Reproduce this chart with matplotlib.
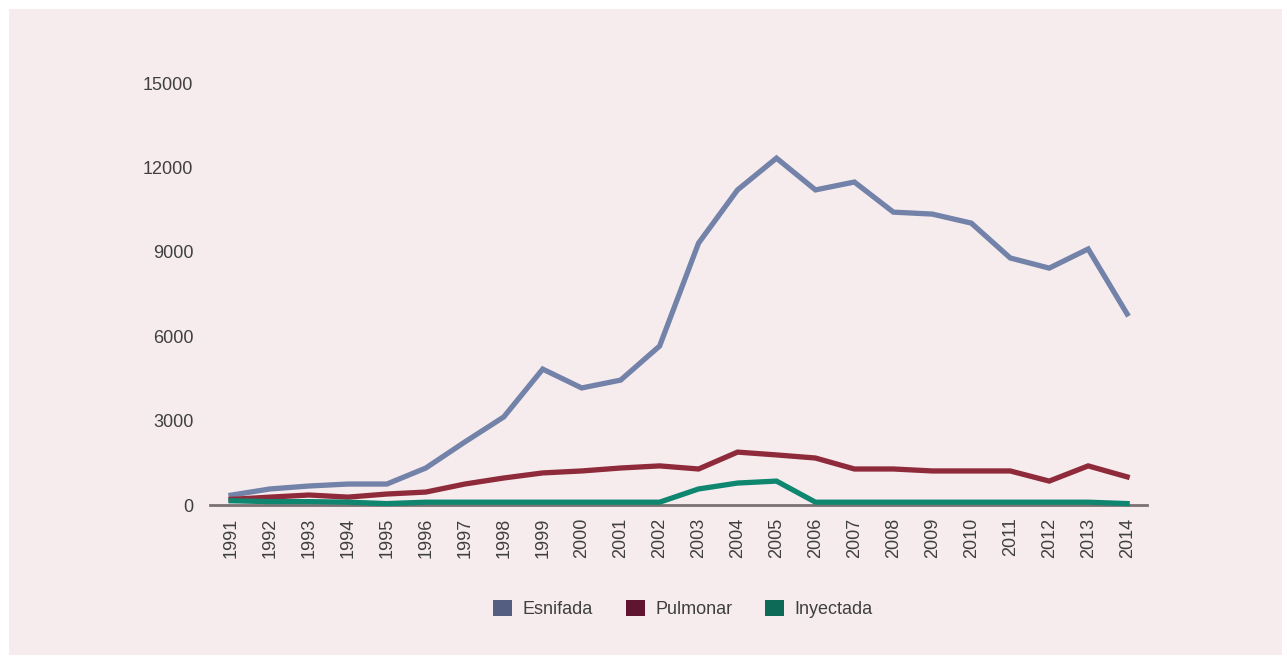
import matplotlib
matplotlib.use("Agg")
import matplotlib.pyplot as plt
from matplotlib.patches import Patch, Rectangle

years = list(range(1991, 2015))
esnifada = [350, 570, 675, 745, 745, 1315, 2240, 3130, 4830, 4160, 4440, 5650,
            9310, 11200, 12330, 11200, 11480, 10410, 10340, 10020, 8780, 8420, 9100, 6790]
pulmonar = [200, 280, 355, 280, 390, 460, 745, 960, 1140, 1210, 1315, 1390,
            1280, 1880, 1780, 1670, 1280, 1280, 1210, 1210, 1210, 850, 1390, 1000]
inyectada = [150, 120, 120, 100, 50, 100, 100, 100, 100, 100, 100, 100,
             570, 780, 850, 100, 100, 100, 100, 100, 100, 100, 100, 50]
yticks = [0, 3000, 6000, 9000, 12000, 15000]

series_names = ["Esnifada", "Pulmonar", "Inyectada"]
line_colors = ["#7382a8", "#8f2a3b", "#0f8670"]
legend_colors = ["#535e80", "#5f1530", "#0d6a56"]

plt.rcParams['font.family'] = ['Liberation Sans', 'DejaVu Sans']
W, H = 1285, 661
fig = plt.figure(figsize=(W / 100, H / 100), dpi=100, facecolor="white")
fig.patches.append(Rectangle((9 / W, 6 / H), 1273 / W, 646 / H, transform=fig.transFigure,
                             facecolor="#f6ecee", edgecolor="none", zorder=-10))

ax = fig.add_axes([210 / W, (H - 505) / H, (1147 - 210) / W, (505 - 83) / H])
ax.set_facecolor("none")
txt = "#3f3f3f"
for vals, c in zip([esnifada, pulmonar, inyectada], line_colors):
    ax.plot(years, vals, color=c, lw=3.8, solid_joinstyle="miter", clip_on=False, zorder=3)

ax.set_xlim(1990.46, 2014.51)
ax.set_ylim(0, 15000)
ax.set_yticks(yticks)
ax.set_yticklabels([str(v) for v in yticks])
ax.set_xticks(years)
ax.set_xticklabels([str(y) for y in years], rotation=90)
ax.tick_params(axis="y", length=0, pad=12, labelsize=13, labelcolor=txt)
ax.tick_params(axis="x", length=0, pad=9, labelsize=13, labelcolor=txt)
for s in ["top", "right", "left"]:
    ax.spines[s].set_visible(False)
ax.spines["bottom"].set_color("#7a7272")
ax.spines["bottom"].set_linewidth(2)
ax.spines["bottom"].set_zorder(2)

handles = [Patch(facecolor=c, edgecolor="none", label=n) for n, c in zip(series_names, legend_colors)]
fig.legend(handles=handles, loc="center", bbox_to_anchor=(683 / W, 1 - 609 / H), ncol=3,
           frameon=False, handlelength=1.05, handleheight=1.05, handletextpad=0.6,
           columnspacing=1.8, prop={"size": 13}, labelcolor=txt)

fig.savefig("out.png", dpi=100, facecolor="white")
